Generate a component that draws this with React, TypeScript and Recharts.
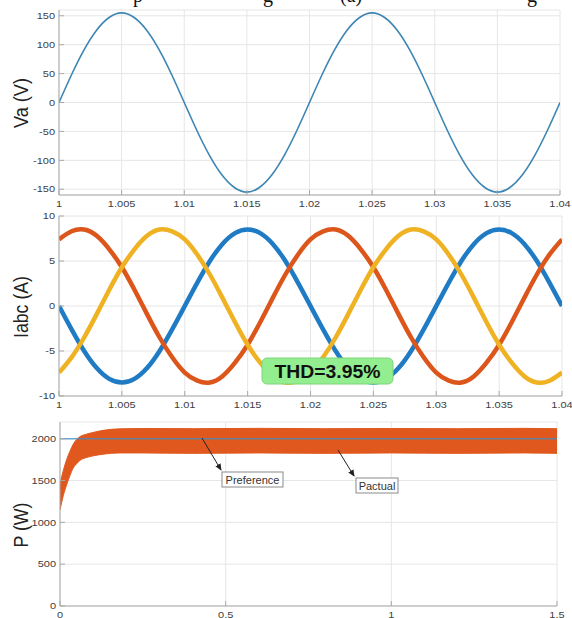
import React from 'react';
import { LineChart, ComposedChart, Line, Area, XAxis, YAxis, CartesianGrid } from 'recharts';

// time axis of the zoomed waveforms (s)
const WAVE_T = [
  1, 1.001, 1.002, 1.003, 1.004, 1.005, 1.006, 1.007, 1.008, 1.009,
  1.01, 1.011, 1.012, 1.013, 1.014, 1.015, 1.016, 1.017, 1.018, 1.019,
  1.02, 1.021, 1.022, 1.023, 1.024, 1.025, 1.026, 1.027, 1.028, 1.029,
  1.03, 1.031, 1.032, 1.033, 1.034, 1.035, 1.036, 1.037, 1.038, 1.039, 1.04,
];

const VA = [
  0, 48, 91, 125, 147, 155, 147, 125, 91, 48,
  0, -48, -91, -125, -147, -155, -147, -125, -91, -48,
  0, 48, 91, 125, 147, 155, 147, 125, 91, 48,
  0, -48, -91, -125, -147, -155, -147, -125, -91, -48, 0,
];

const IA = [
  0, -2.6, -5.0, -6.9, -8.1, -8.5, -8.1, -6.9, -5.0, -2.6,
  0, 2.6, 5.0, 6.9, 8.1, 8.5, 8.1, 6.9, 5.0, 2.6,
  0, -2.6, -5.0, -6.9, -8.1, -8.5, -8.1, -6.9, -5.0, -2.6,
  0, 2.6, 5.0, 6.9, 8.1, 8.5, 8.1, 6.9, 5.0, 2.6, 0,
];

const IB = [
  7.4, 8.3, 8.5, 7.8, 6.3, 4.3, 1.8, -0.9, -3.5, -5.7,
  -7.4, -8.3, -8.5, -7.8, -6.3, -4.3, -1.8, 0.9, 3.5, 5.7,
  7.4, 8.3, 8.5, 7.8, 6.3, 4.3, 1.8, -0.9, -3.5, -5.7,
  -7.4, -8.3, -8.5, -7.8, -6.3, -4.3, -1.8, 0.9, 3.5, 5.7, 7.4,
];

const IC = [
  -7.4, -5.7, -3.5, -0.9, 1.8, 4.3, 6.3, 7.8, 8.5, 8.3,
  7.4, 5.7, 3.5, 0.9, -1.8, -4.3, -6.3, -7.8, -8.5, -8.3,
  -7.4, -5.7, -3.5, -0.9, 1.8, 4.3, 6.3, 7.8, 8.5, 8.3,
  7.4, 5.7, 3.5, 0.9, -1.8, -4.3, -6.3, -7.8, -8.5, -8.3, -7.4,
];

const WAVE_X_TICKS = [1, 1.005, 1.01, 1.015, 1.02, 1.025, 1.03, 1.035, 1.04];
const VA_TICKS = [-150, -100, -50, 0, 50, 100, 150];
const I_TICKS = [-10, -5, 0, 5, 10];

// power: envelope of the ripple band of Pactual, plus the reference
const P_T = [0, 0.01, 0.02, 0.03, 0.04, 0.05, 0.06, 0.08, 0.1, 0.13, 0.18, 0.25, 0.4, 0.6, 0.8, 1.0, 1.2, 1.4, 1.5];
const P_LOW = [1150, 1320, 1450, 1560, 1650, 1700, 1740, 1775, 1795, 1815, 1830, 1830, 1825, 1830, 1825, 1830, 1825, 1830, 1825];
const P_HIGH = [1460, 1620, 1750, 1850, 1935, 1990, 2025, 2055, 2075, 2100, 2118, 2122, 2120, 2124, 2120, 2122, 2120, 2124, 2120];
const P_REF = 2000;
const P_X_TICKS = [0, 0.5, 1, 1.5];
const P_Y_TICKS = [0, 500, 1000, 1500, 2000];

const waveData = WAVE_T.map((t, i) => ({ t, va: VA[i], ia: IA[i], ib: IB[i], ic: IC[i] }));
const powerData = P_T.map((t, i) => ({ t, band: [P_LOW[i], P_HIGH[i]], ref: P_REF }));

const AX = '#a9a9a9';
const FONT = '"Liberation Sans", Arial, Helvetica, sans-serif';

const Tick = (props: any) => {
  const { x, y, payload, textAnchor, verticalAnchor } = props;
  const dy = verticalAnchor === 'start' ? '0.72em' : '0.36em';
  return (
    <text
      transform={`translate(${x},${y}) scale(1,0.82)`}
      textAnchor={textAnchor}
      dy={dy}
      fontSize={11}
      fill="#404040"
      fontFamily={FONT}
    >
      {payload.value}
    </text>
  );
};

// MATLAB-like boxed axes: ticks inside on all four sides
const frame = (xDomain: number[], xTicks: number[], yDomain: number[], yTicks: number[], xh: number) => [
  <CartesianGrid key="grid" stroke="#e6e6e6" />,
  <XAxis key="xb" type="number" dataKey="t" domain={xDomain} ticks={xTicks} allowDataOverflow interval={0}
    stroke={AX} tickSize={-5} tickMargin={10} tick={<Tick />} height={xh} />,
  <XAxis key="xt" xAxisId="top" orientation="top" type="number" dataKey="t" domain={xDomain} ticks={xTicks}
    allowDataOverflow interval={0} stroke={AX} tickSize={-5} tick={false} height={0} />,
  <YAxis key="yl" type="number" domain={yDomain} ticks={yTicks} allowDataOverflow interval={0}
    stroke={AX} tickSize={-5} tickMargin={9} tick={<Tick />} width={50} />,
  <YAxis key="yr" yAxisId="right" orientation="right" type="number" domain={yDomain} ticks={yTicks}
    allowDataOverflow interval={0} stroke={AX} tickSize={-5} tick={false} width={0} />,
];

const YLabel = ({ x, y, len, text }: { x: number; y: number; len: number; text: string }) => (
  <text
    transform={`translate(${x},${y}) rotate(-90)`}
    textAnchor="middle"
    fontSize={21}
    fontFamily={FONT}
    fill="#222"
    textLength={len}
    lengthAdjust="spacingAndGlyphs"
  >
    {text}
  </text>
);

export default function App() {
  return (
    <div style={{ position: 'absolute', left: 0, top: 0, width: 572, height: 618, background: '#fff', overflow: 'hidden' }}>
      <div style={{ position: 'absolute', left: 0, top: 0 }}>
        <LineChart width={572} height={215} data={waveData} margin={{ top: 10, right: 12, bottom: 0, left: 9 }}>
          {frame([1, 1.04], WAVE_X_TICKS, [-160, 160], VA_TICKS, 20)}
          <Line type="natural" dataKey="va" stroke="#3d86b4" strokeWidth={1.6} dot={false} isAnimationActive={false} />
        </LineChart>
      </div>

      <div style={{ position: 'absolute', left: 0, top: 205 }}>
        <LineChart width={572} height={215} data={waveData} margin={{ top: 11, right: 10, bottom: 4, left: 9 }}>
          {frame([1, 1.04], WAVE_X_TICKS, [-10, 10], I_TICKS, 20)}
          <Line type="natural" dataKey="ia" stroke="#1f7bc4" strokeWidth={4.5} dot={false} isAnimationActive={false} />
          <Line type="natural" dataKey="ib" stroke="#dc561c" strokeWidth={4.5} dot={false} isAnimationActive={false} />
          <Line type="natural" dataKey="ic" stroke="#efb223" strokeWidth={4.5} dot={false} isAnimationActive={false} />
        </LineChart>
      </div>

      <div style={{ position: 'absolute', left: 0, top: 410 }}>
        <ComposedChart width={572} height={208} data={powerData} margin={{ top: 12, right: 15, bottom: 0, left: 10 }}>
          {frame([0, 1.5], P_X_TICKS, [0, 2200], P_Y_TICKS, 12)}
          <Area type="monotone" dataKey="band" stroke="#e0581d" strokeWidth={1} fill="#e0581d" fillOpacity={1}
            isAnimationActive={false} />
          <Line type="linear" dataKey="ref" stroke="#3f8ec4" strokeOpacity={0.75} strokeWidth={1.5} dot={false}
            isAnimationActive={false} />
        </ComposedChart>
      </div>

      <svg width={572} height={618} style={{ position: 'absolute', left: 0, top: 0, pointerEvents: 'none' }}>
        <defs>
          <marker id="ah" markerWidth="7" markerHeight="6" refX="6" refY="3" orient="auto">
            <path d="M0,0 L7,3 L0,6 z" fill="#222" />
          </marker>
        </defs>

        {/* tail of the caption line above the figure */}
        <g fontFamily='"Liberation Serif", "Times New Roman", serif' fontSize={20} fill="#111">
          <text x={133} y={2}>p</text>
          <text x={263} y={2}>g</text>
          <text x={340} y={2}>(a)</text>
          <text x={527} y={2}>g</text>
        </g>

        <YLabel x={28} y={103} len={50} text="Va (V)" />
        <YLabel x={28} y={307} len={62} text="Iabc (A)" />
        <YLabel x={28} y={525} len={45} text="P (W)" />

        <rect x={262} y={358} width={131} height={26} rx={5} fill="#92ee8e" stroke="#7fd47c" />
        <text x={327.5} y={377.5} textAnchor="middle" fontSize={18} fontWeight="bold" fontFamily={FONT} fill="#111"
          textLength={106} lengthAdjust="spacingAndGlyphs">THD=3.95%</text>

        <line x1={202} y1={438} x2={221} y2={470} stroke="#222" strokeWidth={1} markerEnd="url(#ah)" />
        <rect x={222} y={472} width={61} height={15} fill="#fff" stroke="#8a8a8a" />
        <text x={252.5} y={484} textAnchor="middle" fontSize={11} fontFamily={FONT} fill="#333">Preference</text>

        <line x1={338} y1={450} x2={354} y2={476} stroke="#222" strokeWidth={1} markerEnd="url(#ah)" />
        <rect x={356} y={478} width={42} height={15} fill="#fff" stroke="#8a8a8a" />
        <text x={377} y={490} textAnchor="middle" fontSize={11} fontFamily={FONT} fill="#333">Pactual</text>
      </svg>
    </div>
  );
}
